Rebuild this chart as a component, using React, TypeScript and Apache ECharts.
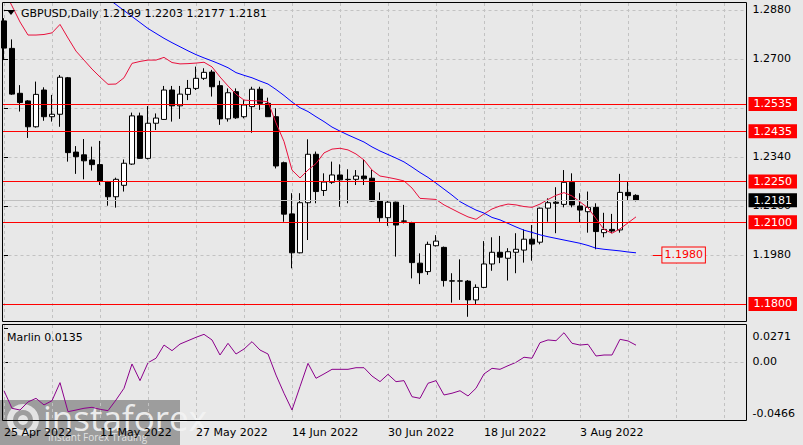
import React, { useEffect, useRef } from "react";
import * as echarts from "echarts";

// [open, close, low, high] per daily bar, bar 0 = 25 Apr 2022
const candles: number[][] = [
  [1.2840, 1.2740, 1.2696, 1.2850],
  [1.2739, 1.2571, 1.2568, 1.2772],
  [1.2574, 1.2540, 1.2507, 1.2604],
  [1.2546, 1.2451, 1.2410, 1.2549],
  [1.2451, 1.2570, 1.2448, 1.2617],
  [1.2586, 1.2488, 1.2473, 1.2596],
  [1.2488, 1.2497, 1.2470, 1.2568],
  [1.2497, 1.2633, 1.2451, 1.2641],
  [1.2631, 1.2356, 1.2323, 1.2634],
  [1.2358, 1.2341, 1.2278, 1.2380],
  [1.2348, 1.2326, 1.2258, 1.2406],
  [1.2329, 1.2312, 1.2290, 1.2378],
  [1.2312, 1.2252, 1.2237, 1.2399],
  [1.2249, 1.2194, 1.2161, 1.2252],
  [1.2194, 1.2258, 1.2154, 1.2264],
  [1.2236, 1.2317, 1.2213, 1.2331],
  [1.2314, 1.2491, 1.2311, 1.2503],
  [1.2491, 1.2335, 1.2333, 1.2503],
  [1.2335, 1.2464, 1.2331, 1.2527],
  [1.2464, 1.2483, 1.2439, 1.2500],
  [1.2478, 1.2586, 1.2476, 1.2601],
  [1.2586, 1.2528, 1.2470, 1.2601],
  [1.2528, 1.2571, 1.2480, 1.2601],
  [1.2570, 1.2592, 1.2549, 1.2623],
  [1.2592, 1.2629, 1.2586, 1.2672],
  [1.2629, 1.2651, 1.2623, 1.2666],
  [1.2652, 1.2598, 1.2562, 1.2660],
  [1.2602, 1.2480, 1.2458, 1.2620],
  [1.2480, 1.2576, 1.2470, 1.2592],
  [1.2580, 1.2484, 1.2480, 1.2592],
  [1.2488, 1.2531, 1.2482, 1.2549],
  [1.2525, 1.2589, 1.2429, 1.2598],
  [1.2589, 1.2537, 1.2513, 1.2598],
  [1.2537, 1.2488, 1.2488, 1.2558],
  [1.2488, 1.2307, 1.2298, 1.2519],
  [1.2319, 1.2130, 1.2102, 1.2323],
  [1.2131, 1.1988, 1.1931, 1.2207],
  [1.1988, 1.2172, 1.1986, 1.2207],
  [1.2172, 1.2350, 1.2035, 1.2405],
  [1.2350, 1.2213, 1.2170, 1.2360],
  [1.2217, 1.2248, 1.2197, 1.2280],
  [1.2247, 1.2274, 1.2241, 1.2323],
  [1.2274, 1.2256, 1.2157, 1.2313],
  [1.2258, 1.2257, 1.2170, 1.2295],
  [1.2258, 1.2270, 1.2237, 1.2292],
  [1.2270, 1.2260, 1.2237, 1.2331],
  [1.2262, 1.2178, 1.2176, 1.2292],
  [1.2178, 1.2117, 1.2102, 1.2210],
  [1.2117, 1.2174, 1.2087, 1.2178],
  [1.2174, 1.2090, 1.1974, 1.2176],
  [1.2105, 1.2104, 1.2096, 1.2164],
  [1.2099, 1.1952, 1.1894, 1.2102],
  [1.1950, 1.1915, 1.1873, 1.1986],
  [1.1919, 1.2019, 1.1907, 1.2029],
  [1.2014, 1.2031, 1.2011, 1.2053],
  [1.2008, 1.1886, 1.1864, 1.2011],
  [1.1885, 1.1884, 1.1805, 1.1913],
  [1.1884, 1.1885, 1.1815, 1.1964],
  [1.1884, 1.1815, 1.1753, 1.1888],
  [1.1815, 1.1861, 1.1799, 1.1872],
  [1.1861, 1.1947, 1.1858, 1.2031],
  [1.1947, 1.1990, 1.1922, 1.2045],
  [1.1990, 1.1972, 1.1950, 1.2050],
  [1.1968, 1.1992, 1.1886, 1.2005],
  [1.1990, 1.2001, 1.1913, 1.2060],
  [1.1998, 1.2038, 1.1952, 1.2074],
  [1.2038, 1.2020, 1.1959, 1.2090],
  [1.2027, 1.2152, 1.2019, 1.2154],
  [1.2152, 1.2172, 1.2102, 1.2188],
  [1.2174, 1.2170, 1.2060, 1.2229],
  [1.2166, 1.2247, 1.2155, 1.2292],
  [1.2247, 1.2164, 1.2155, 1.2280],
  [1.2160, 1.2145, 1.2099, 1.2207],
  [1.2139, 1.2155, 1.2062, 1.2213],
  [1.2155, 1.2066, 1.2001, 1.2170],
  [1.2062, 1.2074, 1.2045, 1.2135],
  [1.2074, 1.2068, 1.2060, 1.2131],
  [1.2072, 1.2210, 1.2062, 1.2278],
  [1.2210, 1.2198, 1.2180, 1.2249],
  [1.2199, 1.2181, 1.2177, 1.2203],
];

const redMA: (number | null)[] = [
  1.2952, 1.2895, 1.2836, 1.2788, 1.2788, 1.2790, 1.2796, 1.2827, 1.2777, 1.2729,
  1.2696, 1.2663, 1.2634, 1.2607, 1.2608, 1.2631, 1.2684, 1.2691, 1.2696, 1.2696,
  1.2706, 1.2687, 1.2682, 1.2683, 1.2685, 1.2688, 1.2671, 1.2634, 1.2601, 1.2571,
  1.2549, 1.2547, 1.2546, 1.2543, 1.2465, 1.2397, 1.2292, 1.2263, 1.2292, 1.2316,
  1.2355, 1.2369, 1.2372, 1.2366, 1.2351, 1.2329, 1.2292, 1.2270, 1.2265, 1.2259,
  1.2252, 1.2226, 1.2188, 1.2186, 1.2184, 1.2164, 1.2149, 1.2134, 1.2120, 1.2111,
  1.2131, 1.2149, 1.2160, 1.2167, 1.2164, 1.2158, 1.2155, 1.2167, 1.2184, 1.2199,
  1.2209, 1.2197, 1.2175, 1.2153, 1.2114, 1.2074, 1.2060, 1.2076, 1.2098, 1.2120,
];

const blueMA: (number | null)[] = [
  null, null, null, null, null, null, null, null, null, null,
  null, null, 1.2931, 1.2922, 1.2900, 1.2878, 1.2856, 1.2834, 1.2812, 1.2794,
  1.2776, 1.2760, 1.2745, 1.2730, 1.2716, 1.2704, 1.2693, 1.2681, 1.2668, 1.2650,
  1.2640, 1.2631, 1.2619, 1.2608, 1.2588, 1.2566, 1.2542, 1.2521, 1.2507, 1.2488,
  1.2470, 1.2450, 1.2435, 1.2421, 1.2408, 1.2395, 1.2377, 1.2362, 1.2349, 1.2336,
  1.2322, 1.2303, 1.2283, 1.2265, 1.2244, 1.2222, 1.2200, 1.2176, 1.2160, 1.2145,
  1.2134, 1.2118, 1.2109, 1.2096, 1.2083, 1.2071, 1.2063, 1.2054, 1.2047, 1.2041,
  1.2035, 1.2029, 1.2023, 1.2015, 1.2005, 1.2001, 1.1998, 1.1995, 1.1991, 1.1988,
];

const marlin: number[] = [
  -0.0231, -0.0372, -0.0386, -0.0321, -0.0292, -0.0345, -0.0311, -0.0166, -0.0399, -0.0386,
  -0.0372, -0.0364, -0.0380, -0.0391, -0.0305, -0.0211, -0.0016, -0.0150, -0.0006, 0.0030,
  0.0136, 0.0091, 0.0144, 0.0171, 0.0198, 0.0222, 0.0177, 0.0056, 0.0150, 0.0064,
  0.0104, 0.0163, 0.0096, 0.0064, -0.0105, -0.0251, -0.0386, -0.0198, -0.0011, -0.0131,
  -0.0096, -0.0059, -0.0059, -0.0059, -0.0046, -0.0046, -0.0113, -0.0158, -0.0099, -0.0158,
  -0.0150, -0.0279, -0.0292, -0.0171, -0.0150, -0.0265, -0.0251, -0.0231, -0.0273, -0.0211,
  -0.0096, -0.0051, -0.0059, -0.0030, -0.0003, 0.0038, 0.0030, 0.0155, 0.0177, 0.0171,
  0.0235, 0.0150, 0.0136, 0.0142, 0.0048, 0.0056, 0.0056, 0.0182, 0.0169, 0.0135,
];

const priceTicks = [1.18, 1.198, 1.216, 1.234, 1.252, 1.27, 1.288];
const levels = [1.2535, 1.2435, 1.225, 1.21, 1.18];
const bidPrice = 1.2181;
const targetPrice = 1.198;
const targetBars = [81.1, 82.3];
const gridBars = [0, 6, 12, 18, 24, 30, 36, 42, 48, 54, 60, 66, 72, 78, 84, 90];
const dateTickBars = [0, 12, 24, 36, 48, 60, 72];
const dateTickLabels = ["25 Apr 2022", "11 May 2022", "27 May 2022", "14 Jun 2022", "30 Jun 2022", "18 Jul 2022", "3 Aug 2022"];
const marlinTicks = [-0.0466, 0, 0.0271];
const titleText = "GBPUSD,Daily";
const ohlcText = "1.2199 1.2203 1.2177 1.2181";
const marlinText = "Marlin 0.0135";

export default function App() {
  const ref = useRef<HTMLDivElement>(null);
  useEffect(() => {
    const chart = echarts.init(ref.current as HTMLDivElement, null, { renderer: "svg" });
    const font = "DejaVu Sans";
    const gridColor = "#c2c2c2";
    const bg = "#e8e8e8";
    const boxLabel = (v: number, bgc: string) => ({
      show: true,
      position: "end",
      formatter: v.toFixed(4),
      color: "#ffffff",
      backgroundColor: bgc,
      padding: [1, 5, 1, 5],
      lineHeight: 12,
      fontSize: 11,
      fontFamily: font,
      distance: 2,
    });
    const xBase = {
      type: "value",
      min: -0.1875,
      max: 92.8125,
      axisLine: { show: false },
      splitLine: { show: true, lineStyle: { color: gridColor, type: [3, 3], width: 1 } },
    };
    const option: any = {
      animation: false,
      backgroundColor: bg,
      textStyle: { fontFamily: font, fontSize: 11, color: "#000" },
      grid: [
        { left: 2.5, top: 3, width: 744, height: 318 },
        { left: 2.5, top: 325, width: 744, height: 95 },
      ],
      xAxis: [
        {
          ...xBase,
          gridIndex: 0,
          axisTick: { show: false, customValues: gridBars },
          axisLabel: { show: false },
        },
        {
          ...xBase,
          gridIndex: 1,
          axisTick: { show: false, customValues: gridBars },
          axisLabel: {
            show: true,
            customValues: dateTickBars,
            align: "left",
            margin: 7,
            color: "#000",
            fontSize: 11,
            fontFamily: font,
            formatter: (v: number) => {
              const k = dateTickBars.indexOf(Math.round(v));
              return k >= 0 ? dateTickLabels[k] : "";
            },
          },
        },
      ],
      yAxis: [
        {
          type: "value",
          gridIndex: 0,
          position: "right",
          min: 1.17375,
          max: 1.29057,
          axisLine: { show: false },
          axisTick: { show: true, length: 4, customValues: priceTicks, lineStyle: { color: "#000" } },
          axisLabel: {
            customValues: priceTicks,
            formatter: (v: number) => v.toFixed(4),
            margin: 6,
            color: "#000",
            fontSize: 11,
            fontFamily: font,
          },
          splitLine: { show: true, lineStyle: { color: gridColor, type: [3, 3], width: 1 } },
        },
        {
          type: "value",
          gridIndex: 1,
          position: "right",
          min: -0.0466,
          max: 0.0297,
          axisLine: { show: false },
          axisTick: { show: true, length: 4, customValues: marlinTicks, lineStyle: { color: "#000" } },
          axisLabel: {
            customValues: marlinTicks,
            margin: 6,
            color: "#000",
            fontSize: 11,
            fontFamily: font,
            formatter: (v: number) =>
              v > 0.02 ? "{t|" + v.toFixed(4) + "}" : v < -0.04 ? "{b|" + v.toFixed(4) + "}" : "0.00",
            rich: {
              t: { padding: [17, 0, 0, 0], fontSize: 11, fontFamily: font, color: "#000" },
              b: { padding: [0, 0, 13, 0], fontSize: 11, fontFamily: font, color: "#000" },
            },
          },
          splitLine: { show: false },
        },
      ],
      series: [
        {
          type: "line",
          name: "bid",
          xAxisIndex: 0,
          yAxisIndex: 0,
          data: [],
          z: 1,
          markLine: {
            silent: true,
            precision: 4,
            symbol: ["none", "none"],
            data: [
              {
                yAxis: bidPrice,
                lineStyle: { color: "#c0c0c0", width: 1, type: "solid" },
                label: boxLabel(bidPrice, "#000000"),
              },
            ],
          },
        },
        {
          type: "candlestick",
          xAxisIndex: 0,
          yAxisIndex: 0,
          barWidth: 5,
          z: 2,
          data: candles.map((c, i) => [i, c[0], c[1], c[2], c[3]]),
          itemStyle: {
            color: "#ffffff",
            color0: "#000000",
            borderColor: "#000000",
            borderColor0: "#000000",
            borderWidth: 1,
          },
        },
        {
          type: "line",
          xAxisIndex: 0,
          yAxisIndex: 0,
          data: redMA.map((v, i) => [i, v]),
          showSymbol: false,
          symbol: "none",
          z: 3,
          lineStyle: { color: "#e8103c", width: 1 },
        },
        {
          type: "line",
          xAxisIndex: 0,
          yAxisIndex: 0,
          data: blueMA.map((v, i) => [i, v]),
          showSymbol: false,
          symbol: "none",
          z: 3,
          lineStyle: { color: "#0000ff", width: 1 },
        },
        {
          type: "line",
          name: "levels",
          xAxisIndex: 0,
          yAxisIndex: 0,
          data: [],
          z: 4,
          markLine: {
            silent: true,
            precision: 4,
            symbol: ["none", "none"],
            data: [
              ...levels.map((v) => ({
                yAxis: v,
                lineStyle: { color: "#ff0000", width: 1, type: "solid" },
                label: boxLabel(v, "#ff0000"),
              })),
              [
                {
                  coord: [targetBars[0], targetPrice],
                  lineStyle: { color: "#ff0000", width: 1, type: "solid" },
                  label: {
                    show: true,
                    position: "end",
                    formatter: targetPrice.toFixed(4),
                    color: "#ff0000",
                    backgroundColor: "#ececec",
                    borderColor: "#ff0000",
                    borderWidth: 1,
                    padding: [2, 2, 1, 2],
                    lineHeight: 12,
                    fontSize: 11,
                    fontFamily: font,
                    distance: 0,
                  },
                },
                { coord: [targetBars[1], targetPrice] },
              ],
            ],
          },
        },
        {
          type: "line",
          xAxisIndex: 1,
          yAxisIndex: 1,
          data: marlin.map((v, i) => [i, v]),
          showSymbol: false,
          symbol: "none",
          lineStyle: { color: "#8b008b", width: 1 },
          markLine: {
            silent: true,
            precision: 4,
            symbol: ["none", "none"],
            label: { show: false },
            data: [{ yAxis: 0, lineStyle: { color: gridColor, type: [3, 3], width: 1 } }],
          },
        },
      ],
      graphic: [
        {
          type: "rect",
          z: 50,
          shape: { x: 2.5, y: 2.5, width: 744, height: 319 },
          style: { fill: "none", stroke: "#000", lineWidth: 1 },
          silent: true,
        },
        {
          type: "rect",
          z: 50,
          shape: { x: 2.5, y: 324.5, width: 744, height: 96 },
          style: { fill: "none", stroke: "#000", lineWidth: 1 },
          silent: true,
        },
        {
          type: "polygon",
          z: 50,
          shape: { points: [[7, 10], [15, 10], [11, 15]] },
          style: { fill: "#000" },
        },
        {
          type: "text",
          z: 50,
          x: 21,
          y: 13,
          style: { text: titleText, fill: "#000", fontSize: 11, fontFamily: font, verticalAlign: "middle" },
        },
        {
          type: "text",
          z: 50,
          x: 102.5,
          y: 13,
          style: { text: ohlcText, fill: "#000", fontSize: 11, fontFamily: font, verticalAlign: "middle" },
        },
        {
          type: "text",
          z: 50,
          x: 7,
          y: 337,
          style: { text: marlinText, fill: "#000", fontSize: 11, fontFamily: font, verticalAlign: "middle" },
        },
        {
          type: "group",
          z: 60,
          children: [
            {
              type: "rect",
              shape: { x: 0, y: 400, width: 180, height: 45 },
              style: { fill: "rgba(95,95,95,0.55)" },
            },
            {
              type: "ring",
              shape: { cx: 23, cy: 420, r: 16, r0: 10 },
              style: { fill: "rgba(240,240,240,0.85)" },
            },
            {
              type: "circle",
              shape: { cx: 23, cy: 420, r: 5 },
              style: { fill: "rgba(240,240,240,0.85)" },
            },
            {
              type: "text",
              x: 43,
              y: 417,
              style: {
                text: "instaforex",
                fill: "rgba(244,244,244,0.92)",
                fontSize: 35,
                fontFamily: "Open Sans",
                verticalAlign: "middle",
              },
            },
            {
              type: "text",
              x: 48,
              y: 437,
              style: {
                text: "Instant Forex Trading",
                fill: "rgba(235,235,235,0.9)",
                fontSize: 10,
                fontFamily: "Open Sans",
                verticalAlign: "middle",
              },
            },
          ],
        },
      ],
    };
    chart.setOption(option);
    return () => chart.dispose();
  }, []);
  return (
    <div
      ref={ref}
      style={{ position: "fixed", left: 0, top: 0, width: 803, height: 445, background: "#e8e8e8" }}
    />
  );
}
